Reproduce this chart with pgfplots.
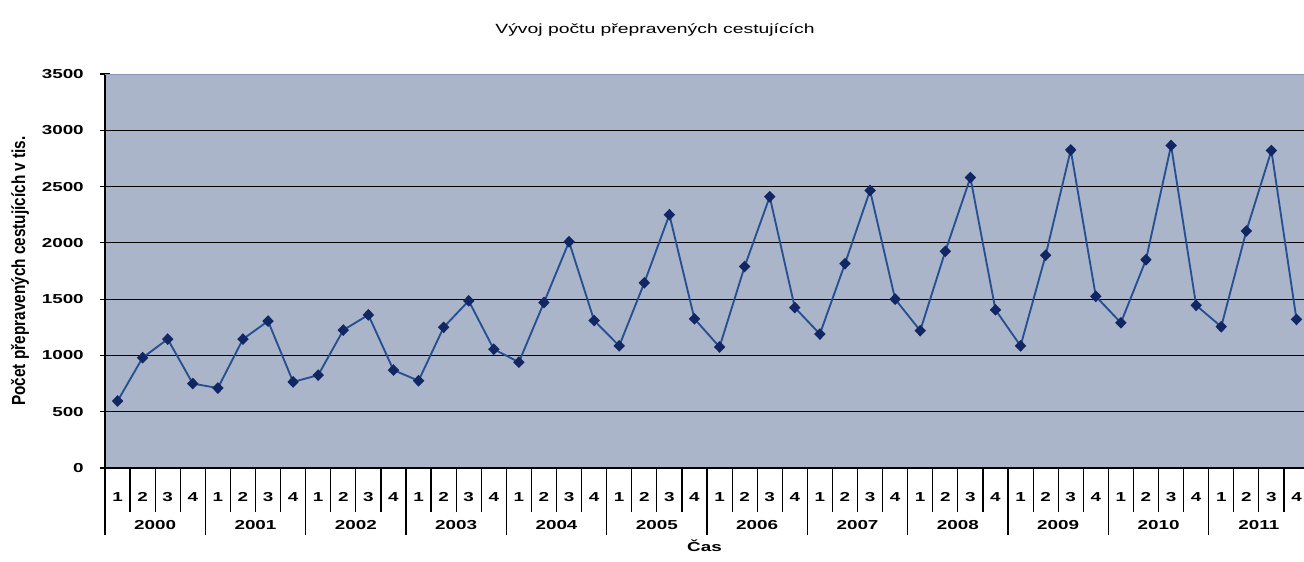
\documentclass[border=0pt]{standalone}
\usepackage{pgfplots}
\pgfplotsset{compat=1.18}
\usepackage{graphicx}
\usepackage{fontspec}
\setmainfont{Liberation Sans}
\definecolor{bgc}{RGB}{170,181,201}
\definecolor{linec}{RGB}{38,80,145}
\definecolor{markc}{RGB}{18,38,100}
\definecolor{topc}{RGB}{135,150,180}
\newcommand{\sx}[1]{\scalebox{1.45}[1]{#1}}
\begin{document}
\begin{tikzpicture}
\begin{axis}[
  scale only axis, width=899.25pt, height=295.5pt,
  xmin=-0.5, xmax=47.3, ymin=0, ymax=3500,
  clip=false,
  axis background/.style={fill=bgc},
  axis x line*=bottom, axis y line*=left,
  axis line style={black, line width=1pt},
  xtick={0,...,47},
  xticklabels={\sx{1},\sx{2},\sx{3},\sx{4},\sx{1},\sx{2},\sx{3},\sx{4},\sx{1},\sx{2},\sx{3},\sx{4},\sx{1},\sx{2},\sx{3},\sx{4},\sx{1},\sx{2},\sx{3},\sx{4},\sx{1},\sx{2},\sx{3},\sx{4},\sx{1},\sx{2},\sx{3},\sx{4},\sx{1},\sx{2},\sx{3},\sx{4},\sx{1},\sx{2},\sx{3},\sx{4},\sx{1},\sx{2},\sx{3},\sx{4},\sx{1},\sx{2},\sx{3},\sx{4},\sx{1},\sx{2},\sx{3},\sx{4}},
  xtick style={draw=none},
  xticklabel style={anchor=center, yshift=-18pt},
  ytick={0,500,...,3000},
  yticklabels={\sx{0},\sx{500},\sx{1000},\sx{1500},\sx{2000},\sx{2500},\sx{3000}},
  extra y ticks={3500}, extra y tick labels={\sx{3500}},
  extra y tick style={grid=none},
  ymajorgrids, grid style={black, line width=0.9pt},
  tick align=center, major tick length=7.5pt,
  ytick style={black, line width=0.8pt},
  tick label style={font=\fontsize{9.75}{11}\selectfont\bfseries},
  yticklabel style={anchor=east, inner sep=0pt, xshift=-12pt},
  title={\sx{Vývoj počtu přepravených cestujících}},
  title style={at={(0.4587,1)}, anchor=center, yshift=27pt, font=\fontsize{10}{12}\selectfont},
  ylabel={\scalebox{1.18}[1.45]{Počet přepravených cestujících v tis.}},
  ylabel style={at={(axis description cs:-0.0709,0.5)}, anchor=center, font=\fontsize{9.75}{11}\selectfont\bfseries},
  xlabel={\sx{Čas}},
  xlabel style={at={(axis description cs:0.5,0)}, anchor=center, yshift=-58.5pt, font=\fontsize{9.75}{11}\selectfont\bfseries},
]
\addplot[linec, line width=1.4pt, mark=diamond*, mark size=3.4pt,
  mark options={draw=markc, fill=markc, xscale=1.3, solid}] table {
x y
0 595
1 980
2 1145
3 750
4 710
5 1145
6 1305
7 765
8 825
9 1225
10 1360
11 870
12 775
13 1250
14 1485
15 1055
16 940
17 1470
18 2010
19 1310
20 1085
21 1645
22 2250
23 1325
24 1075
25 1790
26 2410
27 1425
28 1190
29 1815
30 2465
31 1500
32 1220
33 1925
34 2580
35 1405
36 1085
37 1890
38 2825
39 1525
40 1290
41 1850
42 2865
43 1445
44 1255
45 2105
46 2820
47 1320
};
\draw[topc, line width=0.6pt] (rel axis cs:0,1) -- (rel axis cs:1,1);
\pgfplotsinvokeforeach{0.5,1.5,...,46.5}{\draw[black, line width=0.9pt] (axis cs:#1,0) -- ++(0pt,-33pt);}
\pgfplotsinvokeforeach{-0.5,3.5,...,43.5}{\draw[black, line width=0.9pt] (axis cs:#1,0) -- ++(0pt,-50pt);}
\node[font=\fontsize{9.75}{11}\selectfont\bfseries, yshift=-42.75pt] at (axis cs:1.5,0) {\sx{2000}};
\node[font=\fontsize{9.75}{11}\selectfont\bfseries, yshift=-42.75pt] at (axis cs:5.5,0) {\sx{2001}};
\node[font=\fontsize{9.75}{11}\selectfont\bfseries, yshift=-42.75pt] at (axis cs:9.5,0) {\sx{2002}};
\node[font=\fontsize{9.75}{11}\selectfont\bfseries, yshift=-42.75pt] at (axis cs:13.5,0) {\sx{2003}};
\node[font=\fontsize{9.75}{11}\selectfont\bfseries, yshift=-42.75pt] at (axis cs:17.5,0) {\sx{2004}};
\node[font=\fontsize{9.75}{11}\selectfont\bfseries, yshift=-42.75pt] at (axis cs:21.5,0) {\sx{2005}};
\node[font=\fontsize{9.75}{11}\selectfont\bfseries, yshift=-42.75pt] at (axis cs:25.5,0) {\sx{2006}};
\node[font=\fontsize{9.75}{11}\selectfont\bfseries, yshift=-42.75pt] at (axis cs:29.5,0) {\sx{2007}};
\node[font=\fontsize{9.75}{11}\selectfont\bfseries, yshift=-42.75pt] at (axis cs:33.5,0) {\sx{2008}};
\node[font=\fontsize{9.75}{11}\selectfont\bfseries, yshift=-42.75pt] at (axis cs:37.5,0) {\sx{2009}};
\node[font=\fontsize{9.75}{11}\selectfont\bfseries, yshift=-42.75pt] at (axis cs:41.5,0) {\sx{2010}};
\node[font=\fontsize{9.75}{11}\selectfont\bfseries, yshift=-42.75pt] at (axis cs:45.5,0) {\sx{2011}};
\end{axis}
\pgfresetboundingbox
\path[use as bounding box] ([shift={(-78.75pt,-69.75pt)}]current axis.south west) rectangle ([shift={(0pt,55.5pt)}]current axis.north east);
\end{tikzpicture}
\end{document}
